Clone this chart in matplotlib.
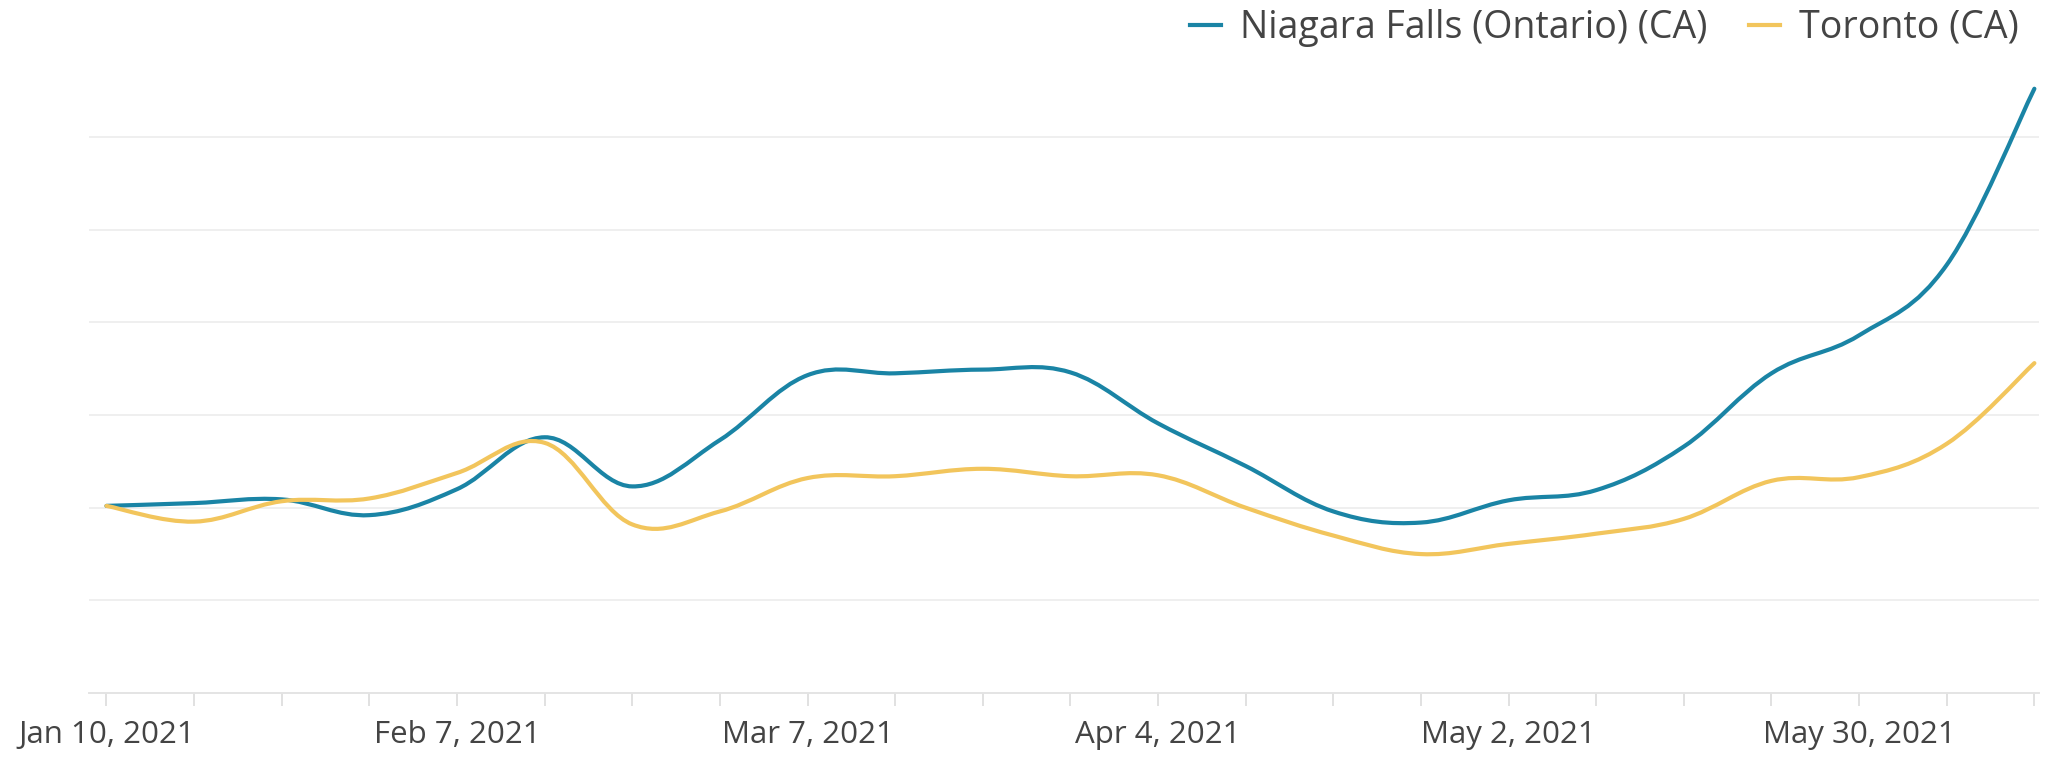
"""Weekly trend lines, Niagara Falls vs Toronto (Jan - Jun 2021)."""

import datetime as dt

import matplotlib
matplotlib.use("Agg")
import matplotlib.dates as mdates
import matplotlib.pyplot as plt
import numpy as np
from matplotlib.lines import Line2D
from matplotlib.patches import PathPatch
from matplotlib.path import Path

# data (arbitrary index units)
start_date = dt.date(2021, 1, 10)
n_weeks = 23
niagara = [40.4, 41.0, 41.8, 38.4, 44.0, 55.2, 44.6, 54.6, 68.6, 69.0, 69.8, 69.2,
           58.2, 49.0, 39.2, 36.8, 41.6, 43.8, 53.2, 69.0, 77.2, 92.4, 130.4]
toronto = [40.4, 37.0, 41.4, 42.0, 47.5, 54.0, 36.4, 39.2, 46.4, 46.8, 48.4, 46.8,
           47.0, 40.0, 34.0, 30.0, 32.2, 34.4, 37.6, 45.8, 46.6, 53.8, 71.2]
series_names = ["Niagara Falls (Ontario) (CA)", "Toronto (CA)"]
series_colors = ["#1a84a5", "#f2c55c"]

dates = [start_date + dt.timedelta(weeks=i) for i in range(n_weeks)]

plt.rcParams["font.family"] = ["Open Sans", "DejaVu Sans"]

fig = plt.figure(figsize=(20.49, 7.6), dpi=100)
ax = fig.add_axes([0.0434, 0.088, 0.9516, 0.805])


def smooth_path(xs, ys, tension=0.5):
    # catmull-rom -> cubic bezier, drawn by matplotlib
    xs = np.asarray(xs, float)
    ys = np.asarray(ys, float)
    verts = [(xs[0], ys[0])]
    codes = [Path.MOVETO]
    n = len(xs)
    for i in range(n - 1):
        x0, y0 = (xs[i - 1], ys[i - 1]) if i > 0 else (xs[i], ys[i])
        x1, y1 = xs[i], ys[i]
        x2, y2 = xs[i + 1], ys[i + 1]
        x3, y3 = (xs[i + 2], ys[i + 2]) if i + 2 < n else (x2, y2)
        c1 = (x1 + (x2 - x0) * tension / 3, y1 + (y2 - y0) * tension / 3)
        c2 = (x2 - (x3 - x1) * tension / 3, y2 - (y3 - y1) * tension / 3)
        verts += [c1, c2, (x2, y2)]
        codes += [Path.CURVE4] * 3
    return Path(verts, codes)


xnum = mdates.date2num(dates)
for vals, color in zip([niagara, toronto], series_colors):
    patch = PathPatch(smooth_path(xnum, vals, tension=0.55), facecolor="none",
                      edgecolor=color, lw=3.0, capstyle="round", zorder=3)
    ax.add_patch(patch)

ax.set_xlim(xnum[0] - 1.4, xnum[-1] + 0.35)
ax.set_ylim(0, 132)

# grid
ax.set_yticks(np.arange(20, 121, 20))
ax.yaxis.grid(True, color="#efefef", lw=1.4)
ax.set_axisbelow(True)
ax.tick_params(axis="y", length=0, labelleft=False)

# x ticks: weekly marks, label every 4 weeks
major = [d for i, d in enumerate(dates) if i % 4 == 0]
ax.set_xticks(mdates.date2num(major))
ax.set_xticks(xnum, minor=True)
ax.set_xticklabels([f"{d.strftime('%b')} {d.day}, {d.year}" for d in major])
ax.tick_params(axis="x", which="both", length=9, width=1.2, color="#dcdcdc",
               labelsize=22.5, labelcolor="#444444", pad=10)

for side in ["top", "right", "left"]:
    ax.spines[side].set_visible(False)
ax.spines["bottom"].set_color("#e4e4e4")
ax.spines["bottom"].set_linewidth(1.4)

handles = [Line2D([], [], color=c, lw=3.0) for c in series_colors]
fig.legend(handles, series_names, loc="upper right", bbox_to_anchor=(0.996, 1.018),
           ncol=2, frameon=False, fontsize=27, labelcolor="#444444", borderpad=0.1,
           handlelength=0.83, handletextpad=0.5, columnspacing=1.1)

fig.savefig("out.png", dpi=100, facecolor="white")
